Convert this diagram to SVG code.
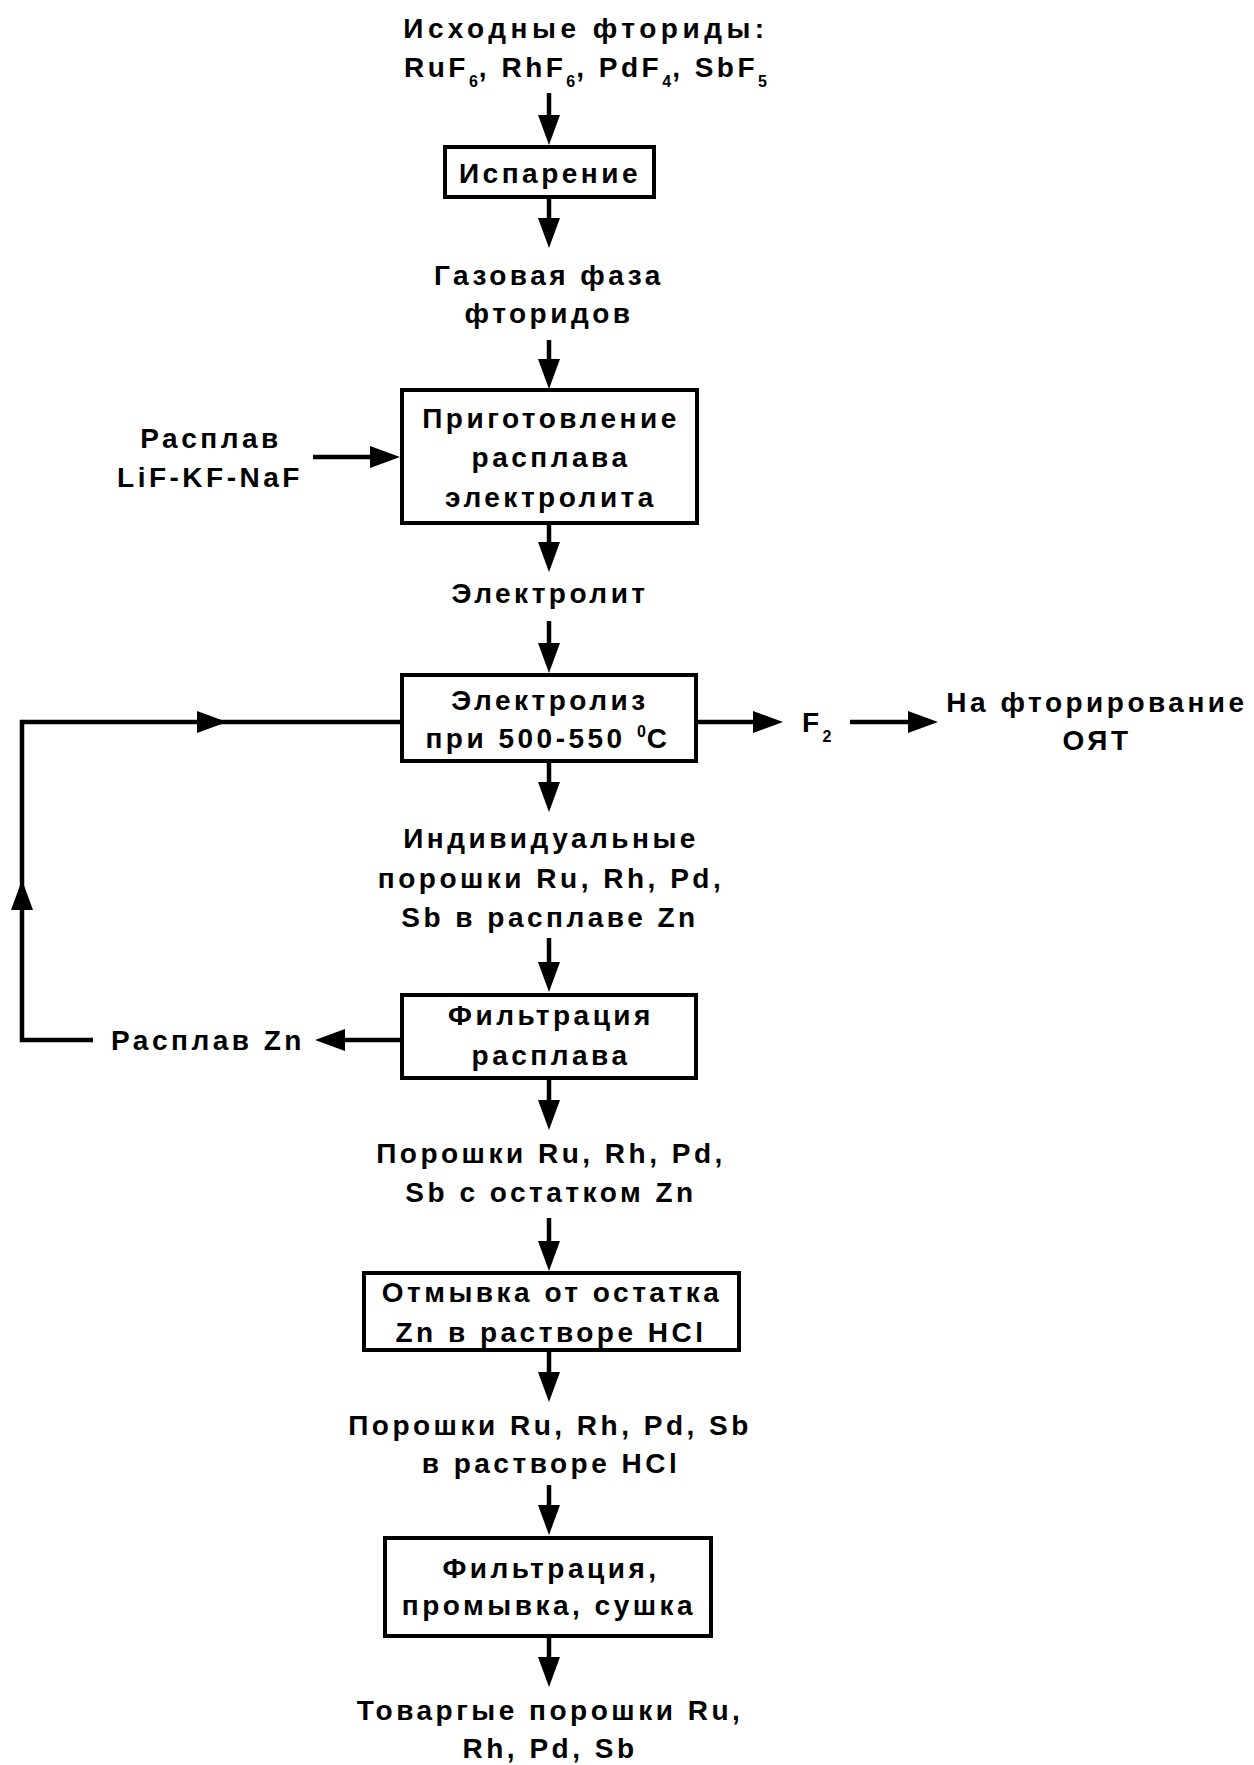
<svg xmlns="http://www.w3.org/2000/svg" width="1254" height="1765" viewBox="0 0 1254 1765">
<style>
text{font-family:"Liberation Sans",Arial,sans-serif;font-weight:bold;font-size:28px;letter-spacing:3.5px;fill:#000;text-anchor:middle}
.sub{font-size:16px;letter-spacing:1px}
.wide{letter-spacing:4.5px}
.box{fill:#fff;stroke:#000;stroke-width:4}
.ln{fill:none;stroke:#000;stroke-width:4.5}
.ar{marker-end:url(#ah)}
</style>
<defs>
<marker id="ah" markerUnits="userSpaceOnUse" markerWidth="30" markerHeight="22" refX="8" refY="11" orient="auto" overflow="visible">
<path d="M0,0 L30,11 L0,22 Z" fill="#000"/>
</marker>
</defs>
<rect width="1254" height="1765" fill="#fff"/>
<g id="connectors">
<path class="ln ar" d="M549,93 V123"/>
<path class="ln ar" d="M549,199 V226"/>
<path class="ln ar" d="M549,340 V367"/>
<path class="ln ar" d="M313,457 H378"/>
<path class="ln ar" d="M549,525 V550"/>
<path class="ln ar" d="M549,621 V651"/>
<path class="ln ar" d="M698,722 H761"/>
<path class="ln ar" d="M850,722 H916"/>
<path class="ln ar" d="M549,763 V790"/>
<path class="ln ar" d="M549,938 V970"/>
<path class="ln ar" d="M400,1040 H337"/>
<path class="ln ar" d="M549,1080 V1108"/>
<path class="ln ar" d="M549,1218 V1249"/>
<path class="ln ar" d="M549,1352 V1380"/>
<path class="ln ar" d="M549,1485 V1513"/>
<path class="ln ar" d="M549,1638 V1665"/>
<path class="ln ar" d="M93,1040 H22 V902"/>
<path class="ln ar" d="M22,902 V722 H205"/>
<path class="ln" d="M200,722 H400"/>
</g>
<g id="n-source">
<text class="wide" x="586" y="38">Исходные фториды:</text>
<text x="586" y="77">RuF<tspan class="sub" dy="10">6</tspan><tspan dy="-10">, RhF</tspan><tspan class="sub" dy="10">6</tspan><tspan dy="-10">, PdF</tspan><tspan class="sub" dy="10">4</tspan><tspan dy="-10">, SbF</tspan><tspan class="sub" dy="10">5</tspan></text>
</g>
<g id="n-evap">
<rect class="box" x="445" y="147" width="209" height="50"/>
<text x="550" y="183">Испарение</text>
</g>
<g id="n-gas">
<text x="549" y="285">Газовая фаза</text>
<text x="549" y="323">фторидов</text>
</g>
<g id="n-melt-in">
<text x="211" y="448">Расплав</text>
<text x="210" y="487">LiF-KF-NaF</text>
</g>
<g id="n-prep">
<rect class="box" x="402" y="390" width="295" height="133"/>
<text x="551" y="428">Приготовление</text>
<text x="551" y="467">расплава</text>
<text x="551" y="507">электролита</text>
</g>
<g id="n-electrolyte">
<text x="550" y="603">Электролит</text>
</g>
<g id="n-electrolysis">
<rect class="box" x="402" y="675" width="294" height="86"/>
<text x="550" y="710">Электролиз</text>
<text x="548" y="748">при 500-550 <tspan class="sub" dy="-11">0</tspan><tspan dy="11">C</tspan></text>
</g>
<g id="n-f2">
<text x="802" y="732" style="text-anchor:start">F<tspan class="sub" dy="10">2</tspan></text>
</g>
<g id="n-fluor">
<text x="1097" y="712">На фторирование</text>
<text x="1097" y="750">ОЯТ</text>
</g>
<g id="n-powders-zn">
<text x="551" y="848">Индивидуальные</text>
<text x="551" y="888">порошки Ru, Rh, Pd,</text>
<text x="550" y="927">Sb в расплаве Zn</text>
</g>
<g id="n-filter">
<rect class="box" x="402" y="995" width="294" height="83"/>
<text x="551" y="1025">Фильтрация</text>
<text x="551" y="1065">расплава</text>
</g>
<g id="n-zn-melt">
<text x="208" y="1050">Расплав Zn</text>
</g>
<g id="n-powders-rest">
<text x="551" y="1163">Порошки Ru, Rh, Pd,</text>
<text x="551" y="1202">Sb с остатком Zn</text>
</g>
<g id="n-wash">
<rect class="box" x="364" y="1273" width="375" height="77"/>
<text x="552" y="1302">Отмывка от остатка</text>
<text x="551" y="1342">Zn в растворе HCl</text>
</g>
<g id="n-powders-hcl">
<text x="550" y="1435">Порошки Ru, Rh, Pd, Sb</text>
<text x="551" y="1473">в растворе HCl</text>
</g>
<g id="n-dry">
<rect class="box" x="385" y="1538" width="326" height="98"/>
<text x="551" y="1578">Фильтрация,</text>
<text x="549" y="1615">промывка, сушка</text>
</g>
<g id="n-product">
<text x="550" y="1720">Товаргые порошки Ru,</text>
<text x="550" y="1758">Rh, Pd, Sb</text>
</g>
</svg>
